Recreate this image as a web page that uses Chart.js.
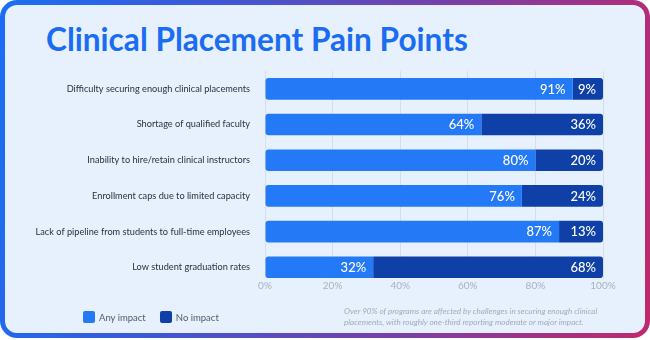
<!DOCTYPE html>
<html>
<head>
<meta charset="utf-8">
<script src="https://cdn.jsdelivr.net/npm/chart.js@4/dist/chart.umd.min.js"></script>
<style>
  html, body { margin: 0; padding: 0; background: #ffffff; }
  body { width: 650px; height: 340px; position: relative; overflow: hidden; }
  .frame {
    position: absolute; left: 0; top: 0; width: 650px; height: 338px;
    border-radius: 17px; box-sizing: border-box; padding: 5px;
    background: linear-gradient(100deg, #1a6ff4 0%, #3d57d6 30%, #7a3fa6 65%, #c0286c 100%);
  }
  .panel { width: 100%; height: 100%; border-radius: 12px; background: #e7f0fd; }
  .title {
    position: absolute; left: 46px; top: 20px; margin: 0;
    font-family: "Lato", sans-serif; font-weight: 700; font-size: 31.6px;
    color: #1a6cf2; letter-spacing: 0px; white-space: nowrap;
  }
  canvas#c { position: absolute; left: 0; top: 0; }
  .legend { position: absolute; left: 83px; top: 311px; font-family: "Lato", sans-serif; font-size: 9.5px; color: #555b66; }
  .legend span.item { display: inline-flex; align-items: center; margin-right: 14px; }
  .legend i { display: inline-block; width: 12px; height: 12px; border-radius: 2px; margin-right: 4px; }
  .note {
    position: absolute; left: 344px; top: 306px; width: 275px;
    font-family: "Lato", sans-serif; font-style: italic; font-size: 8.1px; line-height: 10.5px; color: #a3abba;
  }
</style>
</head>
<body>
<div class="frame"><div class="panel"></div></div>
<h1 class="title">Clinical Placement Pain Points</h1>
<canvas id="c" width="650" height="340"></canvas>
<div class="legend" id="legend"></div>
<div class="note">Over 90% of programs are affected by challenges in securing enough clinical placements, with roughly one-third reporting moderate or major impact.</div>
<script>
const categories = [
  "Difficulty securing enough clinical placements",
  "Shortage of qualified faculty",
  "Inability to hire/retain clinical instructors",
  "Enrollment caps due to limited capacity",
  "Lack of pipeline from students to full-time employees",
  "Low student graduation rates"
];
const seriesNames = ["Any impact", "No impact"];
const anyImpact = [91, 64, 80, 76, 87, 32];
const noImpact = [9, 36, 20, 24, 13, 68];
const xTicks = [0, 20, 40, 60, 80, 100];

const colors = ["#2479f6", "#0e40a8"];

// HTML legend
const legendEl = document.getElementById('legend');
seriesNames.forEach((n, i) => {
  const s = document.createElement('span'); s.className = 'item';
  const b = document.createElement('i'); b.style.background = colors[i];
  s.appendChild(b); s.appendChild(document.createTextNode(n));
  legendEl.appendChild(s);
});

const barLabels = {
  id: 'barLabels',
  afterDatasetsDraw(chart) {
    const ctx = chart.ctx;
    ctx.save();
    ctx.fillStyle = '#ffffff';
    ctx.font = '500 13px Lato, sans-serif';
    ctx.textAlign = 'right';
    ctx.textBaseline = 'middle';
    chart.data.datasets.forEach((ds, di) => {
      const meta = chart.getDatasetMeta(di);
      meta.data.forEach((el, i) => {
        const v = ds.data[i].x;
        ctx.fillText(v + '%', el.x - 7, el.y + 0.5);
      });
    });
    ctx.restore();
  }
};

const toPoints = arr => arr.map((v, i) => ({ x: v, y: i }));

new Chart(document.getElementById('c'), {
  type: 'bar',
  data: {
    datasets: [
      { label: seriesNames[0], data: toPoints(anyImpact), backgroundColor: colors[0],
        borderRadius: { topLeft: 3, bottomLeft: 3, topRight: 0, bottomRight: 0 }, borderSkipped: false },
      { label: seriesNames[1], data: toPoints(noImpact), backgroundColor: colors[1],
        borderRadius: { topLeft: 0, bottomLeft: 0, topRight: 3, bottomRight: 3 }, borderSkipped: false }
    ]
  },
  options: {
    indexAxis: 'y',
    responsive: false,
    animation: false,
    devicePixelRatio: 1,
    categoryPercentage: 0.607,
    barPercentage: 1,
    layout: { padding: { top: 71, right: 47, left: 0, bottom: 0 } },
    plugins: { legend: { display: false }, tooltip: { enabled: false } },
    scales: {
      x: {
        type: 'linear', stacked: true, min: 0, max: 100,
        afterBuildTicks: s => { s.ticks = xTicks.map(v => ({ value: v })); },
        afterFit: s => { s.height = 62; },
        grid: { color: '#d5deeb', lineWidth: 1, drawTicks: false },
        border: { display: false },
        ticks: { padding: 2, color: '#a9b1bf', font: { family: 'Lato', size: 10 }, callback: v => v + '%' }
      },
      y: {
        type: 'linear', stacked: true, reverse: true, min: -0.5, max: 5.3, offset: false,
        afterBuildTicks: s => { s.ticks = categories.map((_, i) => ({ value: i })); },
        afterFit: s => { s.width = 265; },
        grid: { display: false, drawTicks: false, offset: false },
        border: { display: false },
        ticks: { padding: 15, color: '#2c313b', font: { family: 'Lato', size: 9.2 }, callback: v => categories[v] }
      }
    }
  },
  plugins: [barLabels]
});
</script>
</body>
</html>
